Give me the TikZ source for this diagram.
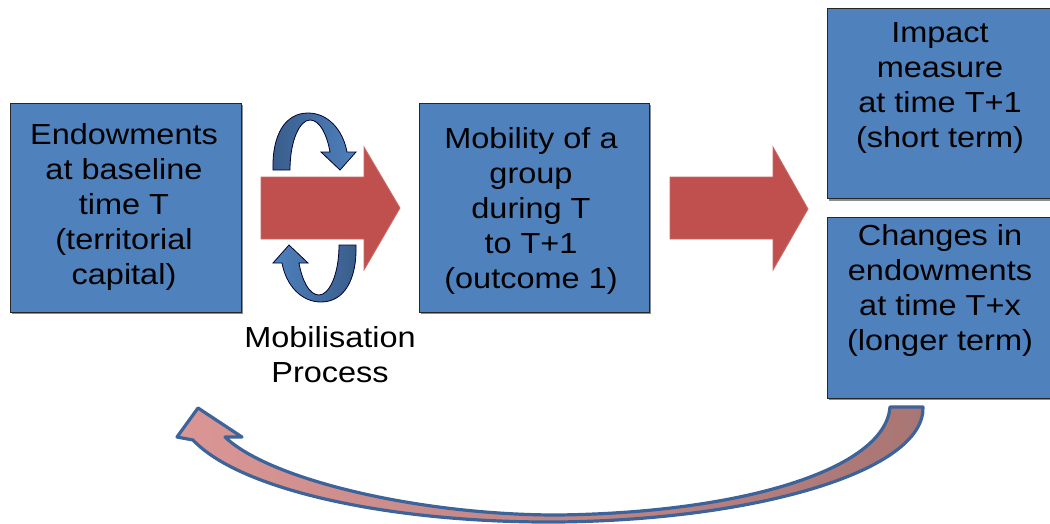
\documentclass[tikz,border=0pt]{standalone}
\usepackage{fontspec}
\setmainfont{Liberation Sans}[FakeStretch=1.12]
\begin{document}
\begin{tikzpicture}[x=1pt,y=-1pt,
  boxstyle/.style={draw=black!85, line width=0.9pt, fill=boxblue, inner sep=0pt, minimum width=#1},
  shadowstyle/.style={fill=black!45},
  txt/.style={align=center, font=\fontsize{29}{35}\selectfont, text=black, inner sep=0pt},
  redarrow/.style={fill=redfill, draw=redfill!85!white, line width=0.8pt},
  cycarrow/.style={draw=black!80!blue, line width=0.8pt},
  backarrow/.style={draw=arrowline, line width=3.2pt, line join=round, left color=pinkL, right color=pinkR}
]
\definecolor{boxblue}{RGB}{79,129,189}
\definecolor{redfill}{RGB}{192,80,77}
\definecolor{darkblue}{RGB}{56,93,138}
\definecolor{arrowline}{RGB}{60,100,155}
\definecolor{pinkL}{RGB}{218,150,148}
\definecolor{pinkR}{RGB}{168,118,116}
\useasboundingbox (0,0) rectangle (1050,523);

% shadows
\fill[shadowstyle] (12,105) rectangle (243,314);
\fill[shadowstyle] (421,105) rectangle (651,314);
\fill[shadowstyle] (829,10) rectangle (1052,201);
\fill[shadowstyle] (829,219) rectangle (1052,400);

% boxes
\node[boxstyle=231pt, minimum height=209pt] (b1) at (125.5,207.5) {};
\node[boxstyle=230pt, minimum height=209pt] (b2) at (534,207.5) {};
\node[boxstyle=226pt, minimum height=190pt] (b3) at (940,103) {};
\node[boxstyle=226pt, minimum height=181pt] (b4) at (940,307.5) {};

% texts
\node[txt] (t1) at (124,207) {Endowments\\at baseline\\time T\\(territorial\\capital)};
\node[txt] (t2) at (531,211) {Mobility of a\\group\\during T\\to T+1\\(outcome 1)};
\node[txt] (t3) at (940,88) {Impact\\measure\\at time T+1\\(short term)};
\node[txt] (t4) at (940,290) {Changes in\\endowments\\at time T+x\\(longer term)};
\node[txt] (t5) at (330,355) {Mobilisation\\Process};

% red block arrows
\draw[redarrow] (261,177) -- (364,177) -- (364,147) -- (400,208) -- (364,270) -- (364,239) -- (261,239) -- cycle;
\draw[redarrow] (670,177) -- (773,177) -- (773,147) -- (808,209) -- (773,270) -- (773,239) -- (670,239) -- cycle;

% circular blue arrows
\draw[cycarrow, left color=darkblue, right color=boxblue]
  (273,170) .. controls (272,135) and (285,113) .. (308,113)
  .. controls (328,113) and (343,130) .. (347,152)
  -- (356,152) -- (340,170) -- (321,152) -- (330,152)
  .. controls (327,135) and (320,120) .. (310,120)
  .. controls (300,120) and (290,140) .. (290,170) -- cycle;
\draw[cycarrow, left color=boxblue, right color=darkblue]
  (356,245) .. controls (357,280) and (344,302) .. (321,302)
  .. controls (301,302) and (286,285) .. (282,263)
  -- (273,263) -- (289,245) -- (308,263) -- (299,263)
  .. controls (302,280) and (309,295) .. (319,295)
  .. controls (329,295) and (339,275) .. (339,245) -- cycle;

% feedback arrow
\draw[backarrow]
  (890,407) -- (923,407)
  .. controls (925,470) and (760,520) .. (557,522)
  .. controls (390,523) and (240,490) .. (193,440)
  -- (177,437) -- (198,408) -- (242,437) -- (225,437)
  .. controls (270,480) and (420,515) .. (557,515)
  .. controls (740,513) and (885,470) .. (890,407) -- cycle;
\end{tikzpicture}
\end{document}
